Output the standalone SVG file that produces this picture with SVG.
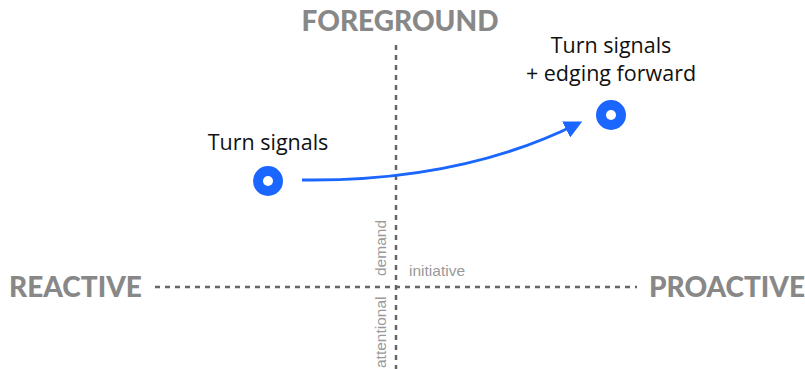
<svg xmlns="http://www.w3.org/2000/svg" width="805" height="369" viewBox="0 0 805 369">
<style>
.axis{stroke:#666;stroke-width:2.5;stroke-dasharray:5 5;fill:none}
.big{font-family:"Lato","Liberation Sans",sans-serif;font-weight:900;font-size:28px;fill:#888}
.small{font-family:"Liberation Sans",sans-serif;font-size:15.5px;fill:#999}
.lbl{font-family:"Open Sans","Noto Sans",sans-serif;font-size:21.5px;fill:#111;text-anchor:middle}
.dot{fill:#1a66ff}
</style>
<defs>
<marker id="ah" viewBox="0 0 10 10" refX="8" refY="5" markerWidth="6" markerHeight="6" orient="auto" markerUnits="strokeWidth">
<path d="M0,0 L10,5 L0,10 z" fill="#1a66ff"/>
</marker>
</defs>
<rect width="805" height="369" fill="#fff"/>
<g id="axes">
<line class="axis" x1="396" y1="45" x2="396" y2="369"/>
<line class="axis" x1="155" y1="287" x2="637" y2="287"/>
<text class="big" x="400" y="31" text-anchor="middle">FOREGROUND</text>
<text class="big" x="9" y="297">REACTIVE</text>
<text class="big" x="649" y="297">PROACTIVE</text>
<text class="small" x="409" y="276">initiative</text>
<text class="small" transform="translate(386,276) rotate(-90)">demand</text>
<text class="small" transform="translate(386,368) rotate(-90)">attentional</text>
</g>
<g id="connectors">
<path d="M302,180 Q462,182 579,123" stroke="#1a66ff" stroke-width="3" fill="none" marker-end="url(#ah)"/>
</g>
<g id="node-turn-signals">
<circle class="dot" cx="268" cy="181" r="15"/>
<circle cx="268" cy="181" r="5" fill="#fff"/>
<text class="lbl" x="268" y="150">Turn signals</text>
</g>
<g id="node-edging">
<circle class="dot" cx="611" cy="115" r="15"/>
<circle cx="611" cy="115" r="5" fill="#fff"/>
<text class="lbl" x="611" y="53">Turn signals</text>
<text class="lbl" x="611" y="81">+ edging forward</text>
</g>
</svg>
